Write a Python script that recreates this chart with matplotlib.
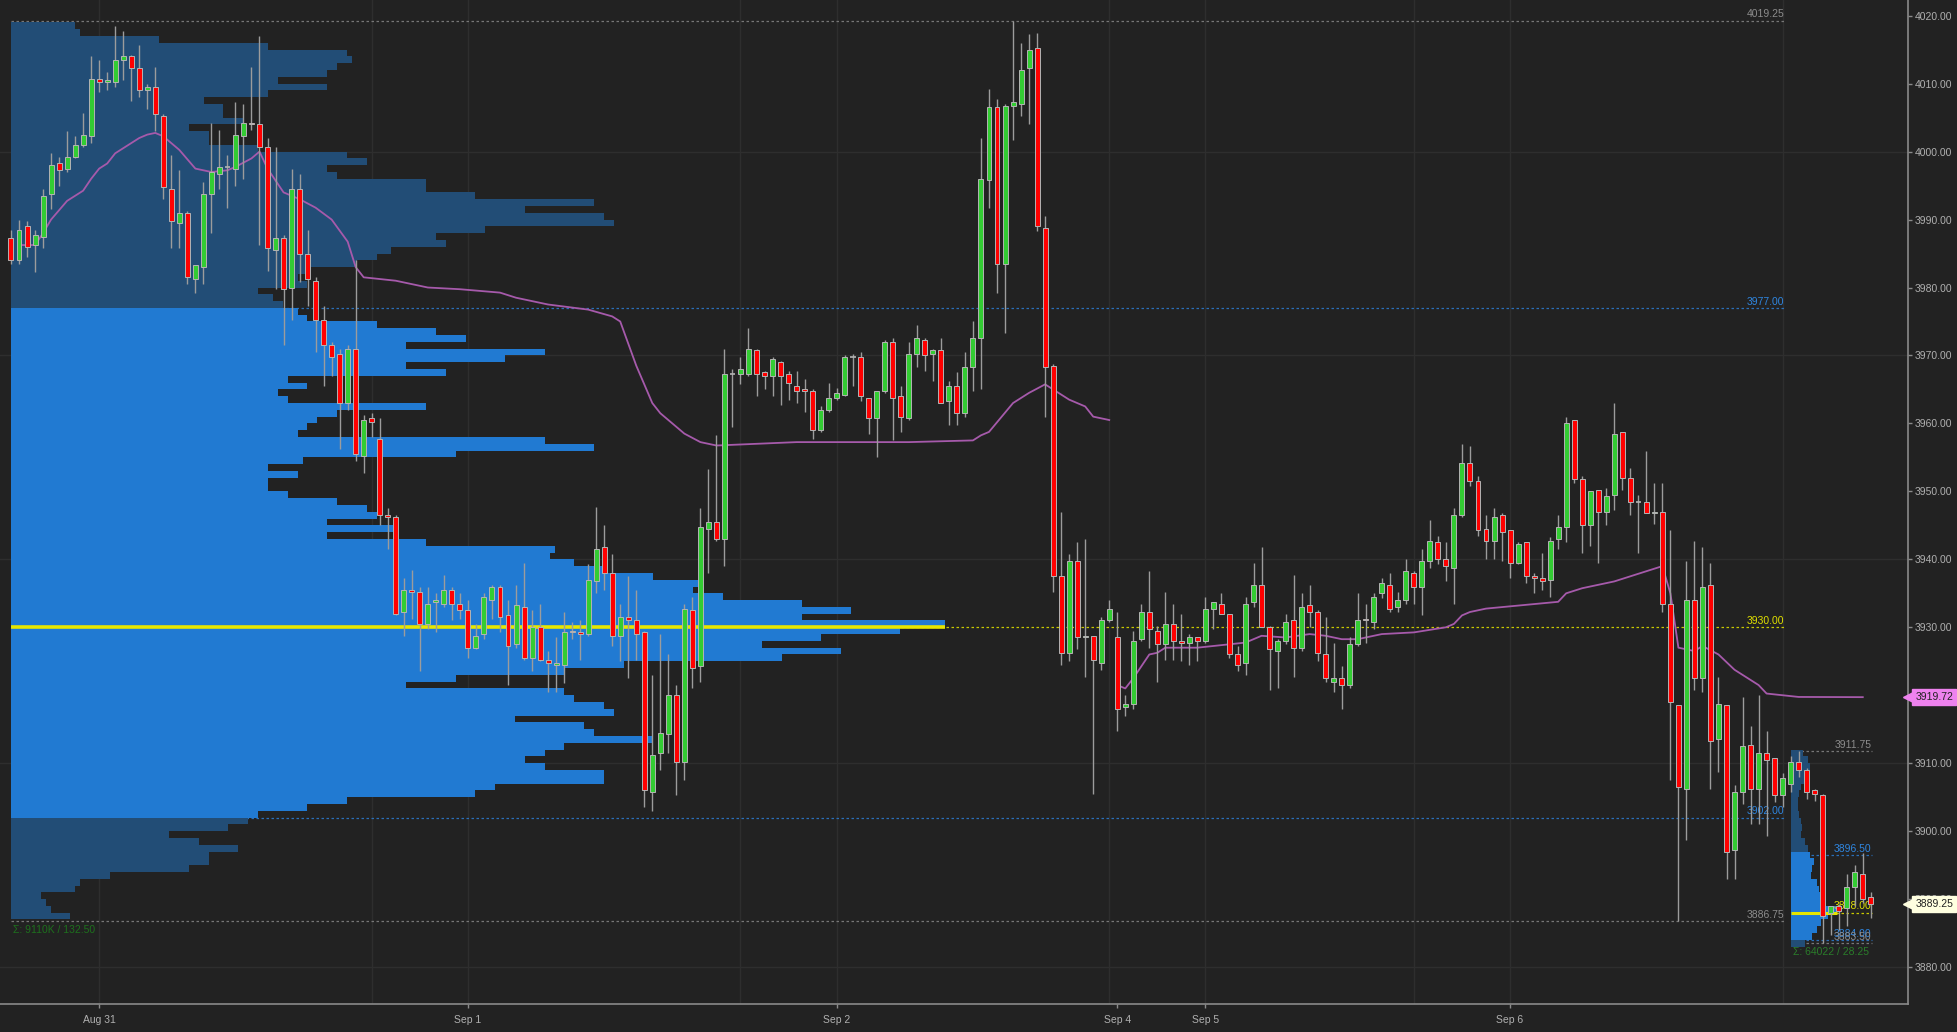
import matplotlib
matplotlib.use("Agg")
import matplotlib.pyplot as plt
import numpy as np

plt.rcParams["font.family"] = ["Liberation Sans", "DejaVu Sans"]

# ---------------- data: 30-min ES bars, Aug 31 -> Sep 6 ----------------
opens = [
    3987.25, 3984.0, 3989.0, 3986.25, 3987.5, 3993.75, 3998.25, 3997.5, 3999.25, 4001.0,
    4002.25, 4010.75, 4010.25, 4010.25, 4013.5, 4014.0, 4012.25, 4009.0, 4009.5, 4005.25,
    3994.5, 3989.5, 3991.0, 3981.25, 3983.0, 3993.75, 3996.75, 3997.75, 3997.5, 4002.25,
    4004.25, 4004.0, 4000.75, 3985.5, 3987.25, 3980.0, 3994.5, 3985.0, 3981.0, 3975.25,
    3971.5, 3970.25, 3963.0, 3971.0, 3955.25, 3960.75, 3957.75, 3946.5, 3946.25, 3932.25,
    3935.5, 3935.25, 3930.5, 3933.75, 3933.5, 3935.5, 3933.5, 3932.5, 3927.0, 3929.0,
    3934.0, 3936.0, 3931.75, 3927.5, 3933.0, 3925.5, 3930.0, 3925.25, 3924.5, 3924.5,
    3929.5, 3929.25, 3929.0, 3936.75, 3941.75, 3938.0, 3928.75, 3931.5, 3931.0, 3929.25,
    3905.75, 3911.5, 3914.25, 3920.0, 3910.25, 3932.5, 3924.25, 3944.5, 3945.5, 3943.0,
    3967.25, 3967.25, 3967.25, 3970.75, 3967.5, 3967.0, 3969.0, 3967.25, 3965.5, 3965.0,
    3964.75, 3959.0, 3962.0, 3963.75, 3964.25, 3969.75, 3969.75, 3963.75, 3960.75, 3964.75,
    3972.0, 3964.0, 3960.75, 3970.25, 3972.25, 3970.25, 3970.75, 3963.25, 3965.5, 3961.5,
    3968.25, 3972.5, 3995.75, 4006.5, 3983.5, 4006.75, 4007.0, 4012.25, 4015.25, 3988.75,
    3968.5, 3937.5, 3926.25, 3939.75, 3928.5, 3928.75, 3924.75, 3931.0, 3928.5, 3918.25,
    3918.75, 3928.25, 3932.25, 3929.5, 3927.5, 3930.5, 3928.0, 3927.75, 3928.5, 3928.0,
    3932.75, 3933.5, 3932.0, 3926.0, 3924.75, 3933.75, 3936.25, 3930.0, 3926.5, 3928.0,
    3931.0, 3927.0, 3933.25, 3932.25, 3926.0, 3922.0, 3922.5, 3921.5, 3927.5, 3931.25,
    3930.75, 3935.0, 3936.25, 3933.0, 3934.0, 3938.0, 3936.0, 3939.75, 3942.5, 3940.0,
    3938.75, 3946.5, 3954.25, 3951.5, 3944.5, 3942.75, 3946.5, 3944.25, 3939.5, 3942.5,
    3937.5, 3937.25, 3937.0, 3943.0, 3944.75, 3960.5, 3951.75, 3945.0, 3950.25, 3947.0,
    3949.5, 3958.75, 3952.0, 3948.5, 3948.5, 3946.75, 3947.0, 3933.5, 3918.5, 3906.25,
    3934.0, 3922.5, 3936.25, 3913.5, 3918.5, 3897.25, 3905.75, 3912.75, 3906.25, 3911.5,
    3910.75, 3905.25, 3907.0, 3910.25, 3909.0, 3906.0, 3905.25, 3888.0, 3889.0, 3888.75,
    3891.75, 3893.75, 3890.25,
]
highs = [
    3988.5, 3990.0, 3989.75, 3988.5, 3994.5, 3999.75, 3999.25, 4003.0, 4002.25, 4005.75,
    4014.0, 4013.5, 4011.75, 4018.5, 4017.75, 4014.25, 4015.75, 4010.0, 4012.5, 4005.5,
    3999.5, 3997.25, 3991.25, 3983.25, 3995.5, 4004.25, 4003.25, 3999.5, 4007.25, 4007.0,
    4012.5, 4017.0, 4002.0, 4000.75, 3987.75, 3997.5, 3996.75, 3988.5, 3981.5, 3977.25,
    3972.0, 3971.0, 3971.5, 3984.0, 3961.25, 3961.5, 3960.75, 3947.5, 3946.5, 3937.25,
    3938.5, 3936.0, 3936.0, 3935.0, 3937.75, 3936.0, 3935.0, 3934.0, 3930.5, 3935.0,
    3936.25, 3936.25, 3934.0, 3936.25, 3939.5, 3932.5, 3933.5, 3926.5, 3928.5, 3932.25,
    3930.75, 3931.0, 3939.25, 3947.75, 3945.0, 3940.75, 3933.5, 3937.5, 3935.5, 3929.5,
    3923.0, 3929.0, 3926.0, 3921.5, 3933.5, 3934.5, 3947.5, 3953.25, 3958.25, 3971.0,
    3968.0, 3969.75, 3974.0, 3971.0, 3967.75, 3969.75, 3969.25, 3967.75, 3967.75, 3966.5,
    3965.0, 3962.5, 3966.0, 3965.25, 3970.0, 3970.25, 3970.5, 3963.75, 3964.75, 3972.25,
    3972.5, 3965.5, 3972.0, 3974.5, 3972.5, 3971.0, 3972.5, 3966.25, 3967.5, 3970.5,
    3975.0, 4002.0, 4009.25, 4007.75, 4007.0, 4019.25, 4016.0, 4017.25, 4017.5, 3990.5,
    3968.75, 3947.0, 3940.75, 3942.5, 3943.0, 3928.75, 3931.5, 3934.0, 3932.25, 3920.0,
    3929.5, 3933.5, 3938.25, 3930.25, 3935.25, 3933.5, 3932.0, 3929.0, 3928.5, 3934.5,
    3933.75, 3935.0, 3932.0, 3927.25, 3934.5, 3939.5, 3941.75, 3930.25, 3928.25, 3932.0,
    3937.75, 3935.0, 3936.25, 3932.5, 3931.5, 3927.75, 3924.25, 3928.5, 3935.0, 3933.5,
    3935.0, 3937.25, 3938.0, 3935.25, 3940.0, 3938.25, 3941.5, 3945.75, 3943.5, 3942.5,
    3947.5, 3957.0, 3956.75, 3952.25, 3946.5, 3947.5, 3946.75, 3944.25, 3942.5, 3942.5,
    3938.0, 3941.0, 3943.25, 3946.5, 3961.0, 3960.5, 3952.25, 3950.0, 3950.25, 3950.5,
    3963.0, 3958.75, 3953.5, 3949.5, 3956.0, 3951.25, 3951.25, 3944.25, 3918.5, 3939.75,
    3942.75, 3941.75, 3939.5, 3922.75, 3918.5, 3906.75, 3919.75, 3915.5, 3920.0, 3914.75,
    3910.75, 3908.5, 3911.0, 3911.75, 3909.25, 3906.25, 3905.5, 3889.0, 3889.25, 3893.75,
    3895.0, 3896.75, 3891.0,
]
lows = [
    3983.5, 3983.5, 3984.5, 3982.25, 3985.75, 3991.5, 3995.0, 3997.0, 3999.0, 4000.75,
    4001.25, 4008.75, 4009.0, 4009.5, 4010.5, 4007.5, 4008.0, 4006.25, 4003.0, 3993.0,
    3985.75, 3985.75, 3980.5, 3979.25, 3980.5, 3988.0, 3994.5, 3991.75, 3995.0, 3996.0,
    4003.25, 3986.25, 3982.5, 3979.75, 3971.5, 3975.25, 3980.75, 3977.25, 3970.5, 3965.5,
    3967.0, 3956.25, 3962.0, 3954.5, 3952.75, 3958.0, 3945.0, 3941.5, 3931.75, 3928.75,
    3931.25, 3923.5, 3929.75, 3929.25, 3933.0, 3931.0, 3931.25, 3925.5, 3926.75, 3928.25,
    3931.25, 3929.25, 3921.5, 3927.0, 3925.25, 3923.5, 3925.0, 3920.5, 3920.5, 3921.75,
    3928.25, 3925.25, 3928.75, 3935.0, 3935.5, 3927.25, 3925.0, 3922.5, 3925.25, 3903.5,
    3903.0, 3909.0, 3911.5, 3905.25, 3907.5, 3921.0, 3922.0, 3938.0, 3942.75, 3939.0,
    3959.5, 3965.75, 3967.0, 3964.0, 3965.0, 3964.0, 3962.75, 3963.5, 3963.0, 3961.75,
    3957.75, 3958.75, 3961.75, 3963.5, 3964.0, 3965.5, 3963.25, 3958.5, 3955.0, 3964.5,
    3957.5, 3958.75, 3960.5, 3968.25, 3967.75, 3966.25, 3963.0, 3959.75, 3959.75, 3961.0,
    3964.75, 3965.0, 3991.75, 3979.25, 3973.25, 4001.75, 4005.25, 4004.0, 3988.25, 3961.0,
    3935.25, 3924.5, 3925.0, 3926.75, 3922.75, 3905.5, 3923.75, 3930.75, 3914.75, 3917.0,
    3918.0, 3928.0, 3927.0, 3922.0, 3925.25, 3925.25, 3925.0, 3924.5, 3925.0, 3927.75,
    3929.75, 3932.0, 3925.5, 3923.5, 3923.0, 3933.0, 3930.0, 3920.75, 3921.0, 3927.5,
    3922.75, 3926.5, 3930.0, 3925.0, 3922.0, 3920.5, 3918.0, 3921.0, 3927.25, 3927.75,
    3929.75, 3934.25, 3932.25, 3932.25, 3933.5, 3933.5, 3931.75, 3938.75, 3939.25, 3936.75,
    3933.5, 3946.25, 3950.75, 3943.5, 3940.0, 3940.0, 3939.75, 3937.25, 3939.25, 3936.5,
    3935.0, 3935.5, 3934.5, 3941.5, 3942.5, 3951.25, 3941.0, 3942.0, 3939.5, 3945.0,
    3947.25, 3950.25, 3946.5, 3941.0, 3946.75, 3945.25, 3932.25, 3907.5, 3886.75, 3898.75,
    3920.75, 3920.5, 3906.25, 3908.75, 3893.0, 3893.0, 3904.0, 3901.0, 3901.0, 3899.25,
    3904.25, 3903.5, 3905.75, 3908.0, 3904.75, 3904.5, 3883.5, 3884.75, 3885.5, 3886.0,
    3889.0, 3889.5, 3887.25,
]
closes = [
    3984.0, 3988.5, 3986.0, 3987.75, 3993.5, 3998.0, 3997.25, 3999.25, 4001.0, 4002.5,
    4010.75, 4010.25, 4010.5, 4013.5, 4014.0, 4012.25, 4009.0, 4009.5, 4005.5, 3994.75,
    3989.75, 3991.0, 3981.5, 3983.25, 3993.75, 3997.0, 3997.75, 3997.75, 4002.5, 4004.25,
    4004.0, 4000.75, 3985.75, 3987.25, 3979.75, 3994.5, 3985.0, 3981.25, 3975.25, 3971.5,
    3969.75, 3963.0, 3971.0, 3955.5, 3960.5, 3960.25, 3946.5, 3946.25, 3932.0, 3935.5,
    3935.25, 3930.5, 3933.5, 3934.0, 3935.5, 3933.5, 3932.5, 3927.0, 3928.75, 3934.5,
    3936.0, 3931.5, 3927.25, 3933.25, 3925.5, 3930.0, 3925.25, 3924.75, 3924.75, 3929.25,
    3929.25, 3929.0, 3937.0, 3941.5, 3938.0, 3928.75, 3931.5, 3931.0, 3929.0, 3906.0,
    3911.25, 3914.5, 3920.0, 3910.25, 3932.75, 3924.0, 3944.75, 3945.5, 3943.0, 3967.25,
    3967.25, 3968.0, 3971.0, 3967.25, 3967.0, 3969.5, 3967.0, 3966.0, 3964.75, 3964.75,
    3959.0, 3962.0, 3963.75, 3964.5, 3969.75, 3969.75, 3964.0, 3960.75, 3964.75, 3972.0,
    3963.75, 3961.0, 3970.25, 3972.5, 3970.0, 3970.75, 3963.0, 3965.5, 3961.5, 3968.25,
    3972.5, 3996.0, 4006.5, 3983.5, 4006.75, 4007.25, 4012.0, 4015.0, 3989.0, 3968.25,
    3937.5, 3926.25, 3939.75, 3928.5, 3928.75, 3925.25, 3931.0, 3932.75, 3918.0, 3918.75,
    3928.0, 3932.25, 3929.75, 3927.5, 3930.5, 3928.0, 3927.75, 3928.5, 3928.0, 3932.75,
    3933.75, 3932.0, 3926.0, 3924.5, 3933.5, 3936.25, 3930.0, 3926.75, 3928.0, 3930.75,
    3927.0, 3933.0, 3932.25, 3926.25, 3922.5, 3922.5, 3921.5, 3927.5, 3931.0, 3931.0,
    3934.5, 3936.5, 3932.75, 3934.0, 3938.25, 3936.0, 3939.75, 3942.75, 3940.0, 3939.0,
    3946.5, 3954.25, 3951.5, 3944.25, 3942.75, 3946.25, 3944.0, 3939.5, 3942.25, 3937.5,
    3937.25, 3936.75, 3942.75, 3944.75, 3960.0, 3951.75, 3945.0, 3950.0, 3947.0, 3949.25,
    3958.5, 3952.0, 3948.5, 3948.5, 3946.75, 3947.0, 3933.5, 3919.0, 3906.5, 3934.0,
    3922.5, 3936.0, 3913.25, 3918.75, 3897.0, 3905.75, 3912.5, 3906.25, 3911.5, 3910.5,
    3905.25, 3907.75, 3910.25, 3909.0, 3905.75, 3905.5, 3887.5, 3889.0, 3888.25, 3891.75,
    3894.0, 3890.0, 3889.25,
]

# composite volume profile, 1-point rows from 4018 down to 3887 (volume, K contracts)
profile_levels = np.arange(4018, 3886, -1)
profile_vol = [
    13, 14, 30, 52, 68, 69, 66, 64, 54, 64, 52, 39, 43, 43, 47, 36, 40, 40, 50, 68,
    72, 64, 66, 84, 84, 94, 118, 104, 120, 122, 96, 86, 88, 77, 74, 70, 60, 58, 60, 50,
    53, 55,
    58, 60, 74, 86, 92, 80, 108, 100, 80, 88, 56, 60, 54, 56, 84, 66, 62, 60, 58, 108,
    118, 90, 59, 52, 58, 52, 52, 56, 66, 72, 74, 64, 78, 64, 84, 110, 109, 114, 120, 130,
    140, 138, 144, 160, 170, 160, 189, 180, 164, 152, 168, 156, 124, 112, 90, 80, 112, 114, 120, 122,
    102, 116, 118, 130, 112, 108, 104, 108, 120, 120, 98, 94, 68, 60, 50,
    48, 44, 32, 38, 46, 40, 40, 36, 20, 14, 13, 6, 7, 8, 12,
]
prof_high, prof_low = 4019.25, 3886.75
prof_vah, prof_val, prof_poc = 3977.00, 3902.00, 3930.00
prof_label = "Σ: 9110K / 132.50"

# current session profile (Sep 6 evening), 1-point rows 3911 -> 3883
sess_levels = np.arange(3911, 3882, -1)
sess_vol = [10, 14, 16, 13, 12, 8, 7, 6, 6, 7, 8, 9, 8, 12, 14, 16,
            20, 18, 17, 22, 24, 27, 30, 40, 32, 26, 22, 18, 12]
sess_high, sess_low = 3911.75, 3883.50
sess_vah, sess_val, sess_poc = 3896.50, 3884.00, 3888.00
sess_label = "Σ: 64022 / 28.25"

# session VWAP lines (bar index, value)
vwap1_bar = [1, 3, 4, 5, 7, 9, 10, 11, 12, 13, 16, 17, 18, 19, 21, 23, 25, 27, 28, 30,
             31, 32, 34, 36, 38, 40, 42, 43, 44, 48, 52, 56, 61, 63, 67, 72, 75, 76, 78, 80,
             81, 84, 86, 88, 98, 112, 120, 121, 122, 125, 127, 129, 131, 132, 134, 135, 137]
vwap1_val = [3986.25, 3986.25, 3988.0, 3990.0, 3992.75, 3994.25, 3996.0, 3997.5, 3998.25, 3999.75,
             4002.0, 4002.5, 4002.75, 4002.25, 4000.25, 3997.5, 3997.0, 3997.25, 3997.75, 3999.0,
             4000.0, 3997.5, 3994.0, 3993.0, 3991.75, 3990.0, 3986.75, 3983.0, 3981.5, 3981.0,
             3980.0, 3979.75, 3979.25, 3978.5, 3977.5, 3976.75, 3975.75, 3975.0, 3968.5, 3963.0,
             3961.5, 3958.5, 3957.25, 3956.75, 3957.25, 3957.25, 3957.5, 3958.25, 3958.75, 3963.0,
             3964.5, 3965.75, 3964.25, 3963.5, 3962.5, 3961.0, 3960.5]
vwap2_bar = [138, 139, 140, 142, 143, 144, 148, 152, 154, 156, 159, 162, 164, 166, 168, 171,
             175, 179, 180, 181, 182, 184, 193, 194, 196, 200, 204, 206, 207, 208, 210, 211,
             213, 215, 218, 219, 223, 231]
vwap2_val = [3921.5, 3921.0, 3922.5, 3926.0, 3926.25, 3927.0, 3927.0, 3927.5, 3927.75, 3928.75,
             3928.5, 3929.0, 3928.75, 3928.25, 3928.25, 3929.0, 3929.25, 3930.0, 3930.5, 3931.75,
             3932.25, 3932.75, 3933.75, 3935.0, 3935.75, 3936.75, 3938.25, 3939.0, 3935.0, 3927.0,
             3926.5, 3927.25, 3926.0, 3923.75, 3921.5, 3920.25, 3919.75, 3919.72]
vwap_last = 3919.72
last_price = 3889.25

day_ticks = [11, 57, 103, 138, 149, 187]
day_labels = ["Aug 31", "Sep 1", "Sep 2", "Sep 4", "Sep 5", "Sep 6"]
session_grid = [11, 45, 57, 91, 103, 137, 149, 175, 187, 221]
price_ticks = np.arange(3880, 4021, 10)
price_grid = [3880, 3910, 3940, 3970, 4000]

# ---------------- style ----------------
BG = "#222222"
GRID = "#2e2e2e"
AXIS = "#8a8a8a"
TXT = "#b0b0b0"
UP, DOWN = "#33cc33", "#ff0000"
WICK = "#9c9c9c"
EDGE = "#b4b4b4"
VA_COL, OUT_COL = "#217ad2", "#224d76"
BLUE_TXT, GRAY_TXT, YEL = "#2f86e0", "#8c8c8c", "#e0e000"
SIGMA = "#1d701d"
VWAP_COL = "#a65aab"
FS = 7.5

fig = plt.figure(figsize=(19.58, 10.32), dpi=100, facecolor=BG)
ax = fig.add_axes([0, 0.0271, 0.9743, 0.9729], facecolor=BG)
ax.set_xlim(-1.37, 236.6)
ax.set_ylim(3874.56, 4022.31)

for g in session_grid:
    ax.axvline(g, color=GRID, lw=1, zorder=0)
for g in price_grid:
    ax.axhline(g, color=GRID, lw=1, zorder=0)


def draw_profile(levels, vols, x0, max_bars, val, vah):
    vols = np.asarray(vols, dtype=float)
    widths = vols / vols.max() * max_bars
    lv = np.asarray(levels)[::-1]
    wv = widths[::-1]
    inside = (lv >= val) & (lv + 1 <= vah + 0.5)
    # fill contiguous runs of same colour as stepped polygons (no seams)
    start = 0
    for k in range(1, len(lv) + 1):
        if k == len(lv) or inside[k] != inside[start]:
            y = np.append(lv[start:k], lv[k - 1] + 1)
            x = np.append(wv[start:k], wv[k - 1])
            ax.fill_betweenx(y, x0, x0 + x, step="post", lw=0,
                             color=VA_COL if inside[start] else OUT_COL, zorder=2)
            start = k
    return widths.max()


def level_line(y, x0, x1, color, label, txt_color, ls=(0, (2, 2)), lw=0.9):
    ax.hlines(y, x0, x1, colors=color, linestyles=[ls], lw=lw, zorder=1)
    ax.text(x1, y + 0.2, label, ha="right", va="bottom", color=txt_color,
            fontsize=FS, zorder=3)


# composite profile
main_end = session_grid[-1] + 0.2
pw = draw_profile(profile_levels, profile_vol, 0, 116.5, prof_val, prof_vah)
level_line(prof_high, 0, main_end, "#777777", f"{prof_high:.2f}", GRAY_TXT)
level_line(prof_vah, 0, main_end, "#2a6fb8", f"{prof_vah:.2f}", BLUE_TXT)
level_line(prof_poc, 0, main_end, "#c8c800", f"{prof_poc:.2f}", YEL)
level_line(prof_val, 0, main_end, "#2a6fb8", f"{prof_val:.2f}", BLUE_TXT)
level_line(prof_low, 0, main_end, "#777777", f"{prof_low:.2f}", GRAY_TXT)
ax.hlines(prof_poc, 0, pw, colors="#e6e600", lw=2.6, zorder=2.5)
ax.text(0.2, prof_low - 0.6, prof_label, ha="left", va="top", color=SIGMA,
        fontsize=FS, zorder=3)

# current session profile
s0, s1 = 222.1, 232.1
sw = draw_profile(sess_levels, sess_vol, s0, 5.74, sess_val, sess_vah)
level_line(sess_high, s0, s1, "#777777", f"{sess_high:.2f}", GRAY_TXT)
level_line(sess_vah, s0, s1, "#2a6fb8", f"{sess_vah:.2f}", BLUE_TXT)
level_line(sess_poc, s0, s1, "#c8c800", f"{sess_poc:.2f}", YEL)
level_line(sess_val, s0, s1, "#2a6fb8", f"{sess_val:.2f}", BLUE_TXT)
level_line(sess_low, s0, s1, "#777777", f"{sess_low:.2f}", GRAY_TXT)
ax.hlines(sess_poc, s0, s0 + sw, colors="#e6e600", lw=2.2, zorder=2.5)
ax.text(s0 + 0.2, sess_low - 0.6, sess_label, ha="left", va="top", color="#2a7d2a",
        fontsize=FS, zorder=3)

# VWAP
ax.plot(vwap1_bar, vwap1_val, color=VWAP_COL, lw=1.3, zorder=3)
ax.plot(vwap2_bar, vwap2_val, color=VWAP_COL, lw=1.3, zorder=3)

# candles
o = np.array(opens); h = np.array(highs); l = np.array(lows); c = np.array(closes)
x = np.arange(len(o))
ax.vlines(x, l, h, colors=WICK, lw=1.0, zorder=4)
up = c > o
dn = c < o
flat = c == o
ax.bar(x[up], (c - o)[up], bottom=o[up], width=0.62, color=UP, edgecolor=EDGE,
       linewidth=0.7, zorder=5)
ax.bar(x[dn], (o - c)[dn], bottom=c[dn], width=0.62, color=DOWN, edgecolor=EDGE,
       linewidth=0.7, zorder=5)
ax.hlines(o[flat], x[flat] - 0.35, x[flat] + 0.35, colors=EDGE, lw=1.2, zorder=5)

# axes
for side in ("top", "left"):
    ax.spines[side].set_visible(False)
for side in ("right", "bottom"):
    ax.spines[side].set_color(AXIS)
    ax.spines[side].set_linewidth(1.2)
ax.yaxis.tick_right()
ax.set_yticks(price_ticks)
ax.set_yticklabels([f"{v:.2f}" for v in price_ticks])
ax.set_xticks(day_ticks)
ax.set_xticklabels(day_labels)
ax.tick_params(axis="both", colors=AXIS, labelcolor=TXT, labelsize=FS, length=3, width=1)
ax.tick_params(axis="y", pad=2)
ax.tick_params(axis="x", pad=5)

# right-axis price flags
trans = ax.get_yaxis_transform()
for val, face in ((vwap_last, "#ee82ee"), (last_price, "#ffffe0")):
    ax.text(1.004, val, f"{val:.2f}", transform=trans, ha="left", va="center",
            fontsize=FS, color="#222222", zorder=10, clip_on=False,
            bbox=dict(boxstyle="square,pad=0.28", fc=face, ec=face))
    ax.plot([1.0], [val], marker="<", ms=7, color=face, transform=trans,
            clip_on=False, zorder=10)

fig.savefig("out.png", dpi=100, facecolor=BG)
